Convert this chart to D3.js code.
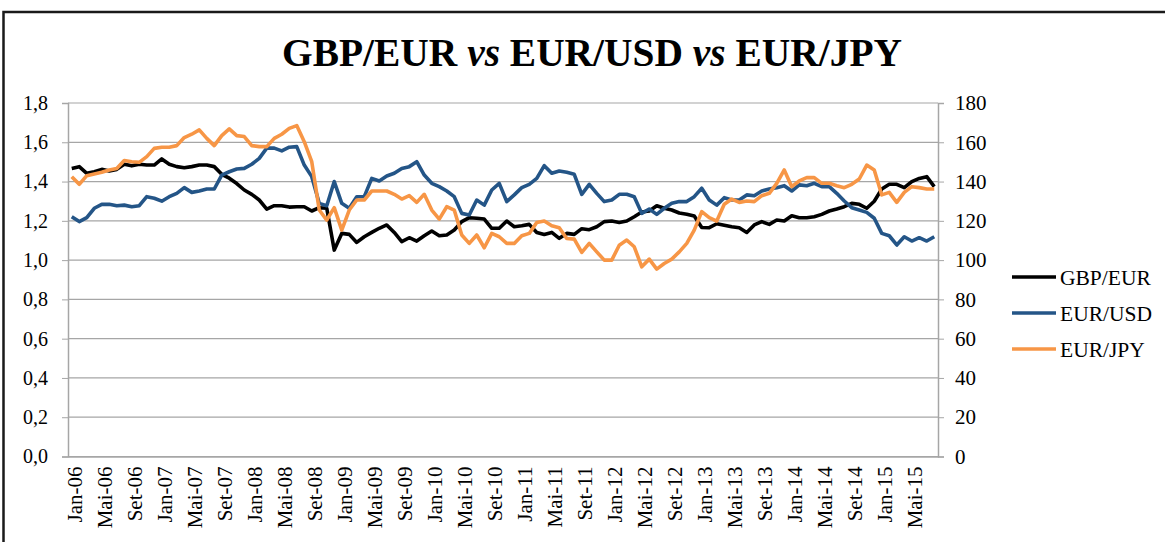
<!DOCTYPE html>
<html>
<head>
<meta charset="utf-8">
<script src="https://cdn.jsdelivr.net/npm/d3@7"></script>
<style>
  body { margin: 0; background: #fff; }
  svg text { font-family: "Liberation Serif", "DejaVu Serif", serif; }
</style>
</head>
<body>
<svg id="chart" width="1165" height="542"></svg>
<script>
// month / year pieces for the category labels
const monthNames = ['Jan', 'Fev', 'Mar', 'Abr', 'Mai', 'Jun', 'Jul', 'Ago', 'Set', 'Out', 'Nov', 'Dez']
const years = ['06', '07', '08', '09', '10', '11', '12', '13', '14', '15']
const leftTicks = [0, 0.2, 0.4, 0.6, 0.8, 1.0, 1.2, 1.4, 1.6, 1.8]
const rightTicks = [0, 20, 40, 60, 80, 100, 120, 140, 160, 180]

// monthly values, Jan-06 .. Ago-15
const gbpEur = [
  1.467, 1.476, 1.442, 1.45, 1.462, 1.454, 1.462, 1.488, 1.48, 1.488, 1.484, 1.484,
  1.515, 1.488, 1.476, 1.47, 1.476, 1.484, 1.484, 1.476, 1.437, 1.417, 1.39, 1.357,
  1.335, 1.306, 1.26, 1.277, 1.277, 1.27, 1.272, 1.272, 1.25, 1.267, 1.264, 1.051,
  1.136, 1.131, 1.09, 1.119, 1.141, 1.162, 1.179, 1.141, 1.094, 1.114, 1.097, 1.124,
  1.148, 1.124, 1.128, 1.153, 1.196, 1.216, 1.213, 1.209, 1.162, 1.162, 1.199, 1.17,
  1.175, 1.182, 1.141, 1.131, 1.141, 1.111, 1.136, 1.131, 1.16, 1.155, 1.17, 1.196,
  1.199, 1.192, 1.199, 1.221, 1.245, 1.25, 1.277, 1.264, 1.255, 1.24, 1.234, 1.225,
  1.166, 1.165, 1.185, 1.178, 1.17, 1.165, 1.141, 1.179, 1.196, 1.182, 1.204, 1.199,
  1.226, 1.216, 1.216, 1.221, 1.233, 1.25, 1.26, 1.272, 1.289, 1.284, 1.264, 1.30,
  1.362, 1.386, 1.386, 1.369, 1.40, 1.416, 1.425, 1.374
]
const eurUsd = [
  1.221, 1.196, 1.216, 1.264, 1.284, 1.284, 1.277, 1.28, 1.272, 1.277, 1.323, 1.315,
  1.30, 1.323, 1.34, 1.369, 1.345, 1.352, 1.362, 1.362, 1.433, 1.45, 1.464, 1.467,
  1.488, 1.518, 1.57, 1.57, 1.556, 1.575, 1.578, 1.484, 1.425, 1.289, 1.277, 1.40,
  1.289, 1.264, 1.323, 1.323, 1.416, 1.403, 1.428, 1.442, 1.467, 1.476, 1.501, 1.433,
  1.391, 1.374, 1.352, 1.323, 1.238, 1.23, 1.306, 1.28, 1.357, 1.391, 1.298, 1.332,
  1.369, 1.386, 1.416, 1.481, 1.442, 1.454, 1.447, 1.437, 1.335, 1.386, 1.34, 1.298,
  1.306, 1.335, 1.335, 1.323, 1.238, 1.26, 1.233, 1.264, 1.289, 1.298, 1.298, 1.323,
  1.366, 1.306, 1.28, 1.318, 1.306, 1.306, 1.332, 1.328, 1.352, 1.362, 1.369, 1.379,
  1.352, 1.383, 1.379, 1.391, 1.374, 1.374, 1.34, 1.301, 1.267, 1.255, 1.243, 1.213,
  1.136, 1.124, 1.077, 1.119, 1.097, 1.114, 1.097, 1.119
]
const eurJpy = [
  142.5, 138.6, 143, 143.9, 144.7, 145.9, 146.7, 150.7, 150.1, 149.8, 152.7, 156.9,
  157.5, 157.5, 158.3, 162.4, 164.1, 166.3, 162, 158.3, 163.4, 166.8, 163.4, 162.9,
  158.3, 157.8, 157.8, 162, 164.1, 167.1, 168.5, 160.3, 150.1, 125.5, 120.4, 126.7,
  115.3, 125.5, 130.6, 130.6, 135.2, 135.2, 135.2, 133.5, 131.1, 132.8, 129.4, 133.5,
  125.5, 120.9, 127.2, 125.5, 112.8, 108.5, 112.8, 106.3, 113.6, 111.9, 108.5, 108.5,
  112.4, 113.6, 119.2, 119.9, 117.5, 116.5, 111, 110.7, 103.9, 108.5, 104.2, 100,
  100, 107.6, 110.2, 106.8, 96.6, 100.5, 95.4, 98.3, 100.5, 104.2, 108.5, 115.3,
  124.7, 121.6, 119.9, 128.4, 131.1, 129.4, 130.1, 129.8, 132.8, 134, 139.1, 145.9,
  137.4, 140.3, 142, 142, 139.1, 139.1, 137.9, 136.9, 138.6, 141.3, 148.4, 145.9,
  133.2, 134.5, 129.4, 134.5, 137.4, 136.9, 136.2, 136.2
]

const categories = []
years.forEach(y => monthNames.forEach(m => categories.push(m + '-' + y)))
categories.length = gbpEur.length

const series = [
  { name: 'GBP/EUR', values: gbpEur, axis: 'left', color: '#000000' },
  { name: 'EUR/USD', values: eurUsd, axis: 'left', color: '#245587' },
  { name: 'EUR/JPY', values: eurJpy, axis: 'right', color: '#F79646' }
]

const svg = d3.select('#chart')
const plot = { left: 68, right: 938, top: 103, bottom: 456.5 }

// outer frame
svg.append('rect')
  .attr('x', 3.5).attr('y', 12)
  .attr('width', 1175).attr('height', 600)
  .attr('fill', 'none')
  .attr('stroke', '#1a1a1a')
  .attr('stroke-width', 2.5)

// title
const title = svg.append('text')
  .attr('x', 592).attr('y', 66)
  .attr('text-anchor', 'middle')
  .attr('font-size', 40)
  .attr('font-weight', 'bold')
  .attr('textLength', 620)
  .attr('lengthAdjust', 'spacingAndGlyphs')
title.append('tspan').text('GBP/EUR ')
title.append('tspan').attr('font-style', 'italic').text('vs')
title.append('tspan').text(' EUR/USD ')
title.append('tspan').attr('font-style', 'italic').text('vs')
title.append('tspan').text(' EUR/JPY')

const x = d3.scalePoint()
  .domain(d3.range(categories.length))
  .range([plot.left, plot.right])
  .padding(0.5)
const yLeft = d3.scaleLinear().domain([0, 1.8]).range([plot.bottom, plot.top])
const yRight = d3.scaleLinear().domain([0, 180]).range([plot.bottom, plot.top])

// gridlines
svg.append('g')
  .selectAll('line')
  .data(leftTicks)
  .join('line')
  .attr('x1', plot.left).attr('x2', plot.right)
  .attr('y1', d => yLeft(d)).attr('y2', d => yLeft(d))
  .attr('stroke', '#a6a6a6')
  .attr('stroke-width', 1.2)

// left axis
const leftAxis = d3.axisLeft(yLeft)
  .tickValues(leftTicks)
  .tickSize(6)
  .tickPadding(14)
  .tickFormat(d => d3.format('.1f')(d).replace('.', ','))
const gl = svg.append('g')
  .attr('transform', `translate(${plot.left},0)`)
  .call(leftAxis)
gl.select('.domain').attr('stroke', '#a6a6a6').attr('stroke-width', 1.5)
gl.selectAll('.tick line').attr('stroke', '#a6a6a6')
gl.selectAll('text').attr('font-size', 20).attr('fill', '#000')
  .style('font-family', '"Liberation Serif", serif')

// right axis
const rightAxis = d3.axisRight(yRight)
  .tickValues(rightTicks)
  .tickSize(6)
  .tickPadding(11)
const gr = svg.append('g')
  .attr('transform', `translate(${plot.right},0)`)
  .call(rightAxis)
gr.select('.domain').attr('stroke', '#a6a6a6').attr('stroke-width', 1.5)
gr.selectAll('.tick line').attr('stroke', '#a6a6a6')
gr.selectAll('text').attr('font-size', 21).attr('fill', '#000')
  .style('font-family', '"Liberation Serif", serif')

// bottom axis (labels every 4 months, rotated)
const bottomAxis = d3.axisBottom(x)
  .tickValues(d3.range(0, categories.length, 4))
  .tickSize(0)
  .tickFormat(i => categories[i])
const gb = svg.append('g')
  .attr('transform', `translate(0,${plot.bottom})`)
  .call(bottomAxis)
gb.select('.domain').attr('stroke', '#a6a6a6').attr('stroke-width', 1.5)
gb.selectAll('text')
  .attr('font-size', 21)
  .attr('fill', '#000')
  .style('font-family', '"Liberation Serif", serif')
  .attr('text-anchor', 'end')
  .attr('transform', 'rotate(-90)')
  .attr('x', -10)
  .attr('y', 2)
  .attr('dy', '0.35em')

// lines
const lineFor = s => d3.line()
  .x((v, i) => x(i))
  .y(v => (s.axis === 'left' ? yLeft(v) : yRight(v)))

svg.append('g')
  .selectAll('path')
  .data(series)
  .join('path')
  .attr('d', s => lineFor(s)(s.values))
  .attr('fill', 'none')
  .attr('stroke', s => s.color)
  .attr('stroke-width', 3.6)
  .attr('stroke-linejoin', 'round')

// legend
const legend = svg.append('g')
  .selectAll('g')
  .data(series)
  .join('g')
  .attr('transform', (d, i) => `translate(1012,${277 + i * 36})`)
legend.append('line')
  .attr('x1', 0).attr('x2', 44)
  .attr('stroke', d => d.color)
  .attr('stroke-width', 3.6)
legend.append('text')
  .attr('x', 48).attr('dy', '0.35em')
  .attr('font-size', 21.5)
  .text(d => d.name)
</script>
</body>
</html>
